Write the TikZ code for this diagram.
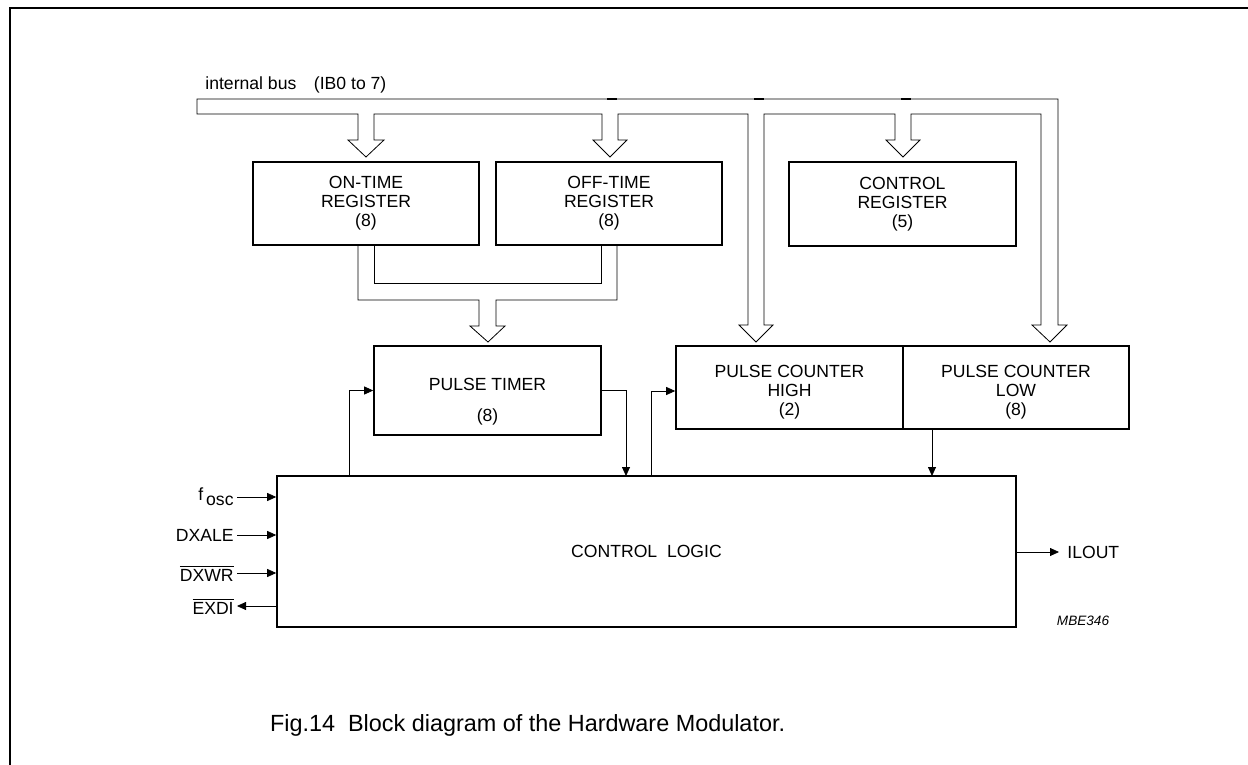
\documentclass[tikz,border=0pt]{standalone}
\usepackage{fontspec}
\setmainfont{Liberation Sans}
\usetikzlibrary{arrows.meta}

\begin{document}
\begin{tikzpicture}[line join=miter, >={Triangle[length=4.5pt,width=4pt]}, x=0.5pt, y=-0.5pt, font=\fontsize{8.8}{9.5}\selectfont]

	% Styles for the blocks and the signal lines
	\tikzset{
		reg/.style={draw, line width=0.8pt, align=center, inner sep=0pt},
		sig/.style={->, line width=0.4pt},
		bus/.style={line width=0.4pt},
		lbl/.style={inner sep=1.5pt}
	}

	\useasboundingbox (0,0) rectangle (1248,765);

	% Page frame (top and left edges only)
	\draw[line width=1pt] (10,765) -- (10,8) -- (1248,8);

	% ----------------------------------------------------
	% REGISTERS
	% ----------------------------------------------------
	\node[reg, minimum width=113pt, minimum height=41.5pt] (ontime) at (366,203.5) {ON-TIME\\REGISTER\\(8)};
	\node[reg, minimum width=113pt, minimum height=41.5pt] (offtime) at (609,203.5) {OFF-TIME\\REGISTER\\(8)};
	\node[reg, minimum width=113.5pt, minimum height=42pt] (ctrlreg) at (902.5,204) {CONTROL\\REGISTER\\(5)};

	% ----------------------------------------------------
	% TIMER AND COUNTERS (text set a little below centre)
	% ----------------------------------------------------
	\node[reg, minimum width=113.5pt, minimum height=44.5pt] (ptimer) at (487.5,390.5) {};
	\node[align=center] (ptimertxt) at (487.5,401.5) {PULSE TIMER\\[6pt](8)};
	\node[reg, minimum width=113.5pt, minimum height=41.5pt] (pch) at (789.5,387.5) {};
	\node[align=center] (pchtxt) at (789.5,392.5) {PULSE COUNTER\\HIGH\\(2)};
	\node[reg, minimum width=113pt, minimum height=41.5pt] (pcl) at (1016,387.5) {};
	\node[align=center] (pcltxt) at (1016,392.5) {PULSE COUNTER\\LOW\\(8)};

	% ----------------------------------------------------
	% CONTROL LOGIC
	% ----------------------------------------------------
	\node[reg, minimum width=369.5pt, minimum height=75.5pt] (logic) at (646.5,551.5) {CONTROL\ \ LOGIC};

	% Internal bus with its hollow arrows
	\node[lbl, anchor=west] (buslbl) at (202,85) {internal bus\quad(IB0 to 7)};
	\draw[bus] (197,99) -- (197,114)
		-- (358,114) -- (358,140) -- (348,140) -- (366,157) -- (384,140) -- (374,140) -- (374,114) % ON-TIME
		-- (602,114) -- (602,140) -- (593,140) -- (610,157) -- (627,140) -- (618,140) -- (618,114) % OFF-TIME
		-- (748,114) -- (748,325) -- (739,325) -- (756,342) -- (773,325) -- (764,325) -- (764,114) % COUNTER HIGH
		-- (895,114) -- (895,140) -- (886,140) -- (903,157) -- (920,140) -- (911,140) -- (911,114) % CONTROL
		-- (1041,114) -- (1041,325) -- (1032,325) -- (1050,342) -- (1067,325) -- (1058,325) -- (1058,99) % COUNTER LOW
		-- cycle;
	\foreach \xm in {612,759,906}
		\draw[line width=1.1pt] (\xm-5,99) -- (\xm+5,99);

	% Both registers into the pulse timer
	\draw[bus] (358,245) -- (358,300) -- (479,300) -- (479,326) -- (470,326) -- (488,342)
		-- (505,326) -- (496,326) -- (496,300) -- (617,300) -- (617,245);
	\draw[bus] (374,245) -- (374,283) -- (601,283) -- (601,245);

	% Signals between logic, timer and counters
	\coordinate (tapT) at (349,476);
	\coordinate (retT) at (626,476);
	\coordinate (tapC) at (651,476);
	\coordinate (retC) at (932,476);
	\draw[sig] (tapT) |- (ptimer.west);
	\draw[sig] (ptimer.east) -| (retT);
	\draw[sig] (tapC) |- ([yshift=-1.75pt]pch.west);
	\draw[sig] (pcl.south -| retC) -- (retC);

	% External pins
	\node[lbl, anchor=east] (fosc) at (237,497) {f\,\raisebox{-0.55ex}{osc}};
	\node[lbl, anchor=east] (dxale) at (237,535) {DXALE};
	\node[lbl, anchor=east] (dxwr) at (237,573) {$\overline{\mbox{DXWR}}$};
	\node[lbl, anchor=east] (exdi) at (237,606) {$\overline{\mbox{EXDI}}$};
	\draw[sig] (fosc.east) -- (fosc.east -| logic.west);
	\draw[sig] (dxale.east) -- (dxale.east -| logic.west);
	\draw[sig] (dxwr.east) -- (dxwr.east -| logic.west);
	\draw[sig] (exdi.east -| logic.west) -- (exdi.east);

	\node[lbl, anchor=west] (ilout) at (1064,552) {ILOUT};
	\draw[sig, shorten >=2.5pt] (logic.east |- ilout.west) -- (ilout.west);

	\node[font=\fontsize{6.8}{8}\selectfont\itshape] (code) at (1083,621) {MBE346};

	% Caption
	\node[anchor=west, font=\fontsize{11.7}{14}\selectfont] (caption) at (263,725) {Fig.14\ \ Block diagram of the Hardware Modulator.};

\end{tikzpicture}
\end{document}
